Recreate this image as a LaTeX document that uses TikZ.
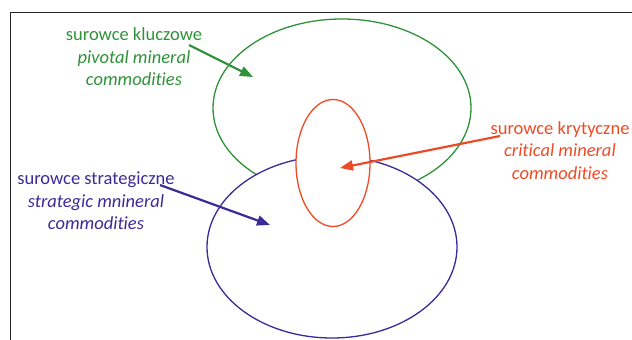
\documentclass[tikz,border=0pt]{standalone}
\usepackage{fontspec}
\setmainfont{Carlito}[Ligatures=NoCommon]
\usetikzlibrary{arrows.meta,shapes.geometric}
\definecolor{kgreen}{HTML}{2F9238}
\definecolor{sblue}{HTML}{3A2B98}
\definecolor{kred}{HTML}{F04A25}
\tikzset{
  set/.style={ellipse,draw,line width=1.3pt,inner sep=0pt},
  lbl/.style={align=center,inner sep=0pt,font=\fontsize{18.5}{22.5}\selectfont},
  ar/.style={-{Triangle[length=13pt,width=10pt]},line width=2.2pt},
}

\begin{document}
\begin{tikzpicture}[x=1pt,y=1pt]
\useasboundingbox (0,0) rectangle (632,340);
\draw[line width=1pt,black!85] (10.5,0) -- (10.5,327) -- (632,327);
% sets
\node[set,draw=kgreen,minimum width=258pt,minimum height=178pt] (kluc) at (342,232) {};
\node[set,draw=sblue,fill=white,minimum width=250pt,minimum height=182pt] (strat) at (332,93) {};
\node[set,draw=kred,fill=white,minimum width=74pt,minimum height=127pt] (kryt) at (333,177) {};
% labels
\node[lbl,text=kgreen] (tkluc) at (134,283) {surowce kluczowe\\\textit{pivotal mineral}\\\textit{commodities}};
\node[lbl,text=sblue] (tstrat) at (96,139) {surowce strategiczne\\\textit{strategic mnineral}\\\textit{commodities}};
\node[lbl,text=kred] (tkryt) at (560,189.5) {surowce krytyczne\\\textit{critical mineral}\\\textit{commodities}};
% arrows
\coordinate (gs) at (189,295);
\coordinate (ge) at (253,263);
\coordinate (bs) at (160,155);
\coordinate (be) at (270,115);
\coordinate (rs) at (500,204);
\coordinate (re) at (340,172);
\draw[ar,kgreen] (gs) -- (ge);
\draw[ar,sblue] (bs) -- (be);
\draw[ar,kred] (rs) -- (re);
\end{tikzpicture}
\end{document}
